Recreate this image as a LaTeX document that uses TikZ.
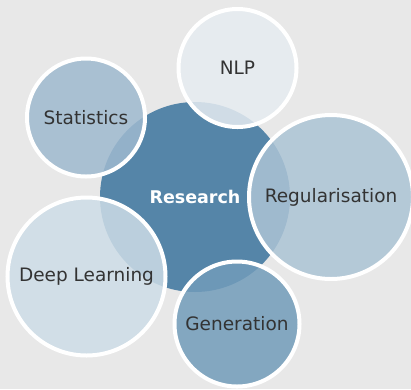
\documentclass[tikz,border=0pt]{standalone}
\usepackage{fontspec}
\setmainfont{DejaVu Sans}
\definecolor{bg}{RGB}{232,232,232}
\definecolor{core}{RGB}{85,133,168}
\definecolor{txt}{RGB}{51,51,51}
\definecolor{cNLP}{RGB}{230,236,241}
\definecolor{cStat}{RGB}{158,185,207}
\definecolor{cReg}{RGB}{172,196,213}
\definecolor{cDeep}{RGB}{206,221,231}
\definecolor{cGen}{RGB}{114,156,186}
\tikzset{
  sat/.style={circle, inner sep=0pt, draw=white, line width=4pt, fill opacity=0.85, text opacity=1, text=txt, font=\fontsize{18.5}{20}\selectfont},
  corebox/.style={circle, inner sep=0pt, fill=core, text=white, font=\fontsize{17.5}{20}\selectfont\bfseries}
}
\begin{document}
\begin{tikzpicture}[x=1pt,y=-1pt]
\fill[bg] (0,0) rectangle (411,389);
\useasboundingbox (0,0) rectangle (411,389);
\node[corebox, minimum size=190pt] (research) at (195,197) {Research};
\node[sat, fill=cNLP, minimum size=118pt] (nlp) at (237.5,68) {NLP};
\node[sat, fill=cStat, minimum size=118pt] (stat) at (86,117.5) {Statistics};
\node[sat, fill=cReg, minimum size=164pt] (reg) at (331,197) {Regularisation};
\node[sat, fill=cDeep, minimum size=158pt] (deep) at (86.5,276.5) {Deep Learning};
\node[sat, fill=cGen, minimum size=125pt] (gen) at (237,324) {Generation};
\end{tikzpicture}
\end{document}
